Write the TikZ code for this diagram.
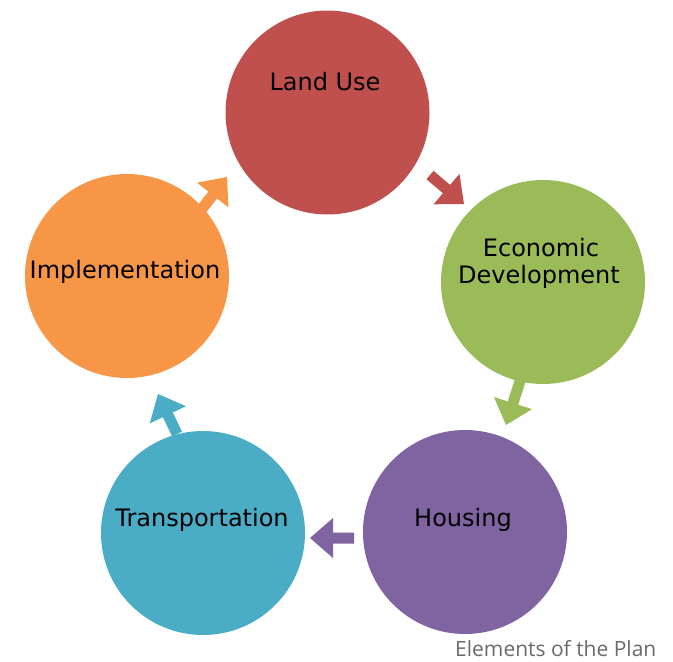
\documentclass[tikz,border=0pt]{standalone}
\usepackage{fontspec}
\setmainfont{DejaVu Sans}
\newfontfamily\capfont{Open Sans}
\usetikzlibrary{calc}
\definecolor{cRed}{HTML}{C0504D}
\definecolor{cGreen}{HTML}{9BBB59}
\definecolor{cPurple}{HTML}{8064A2}
\definecolor{cBlue}{HTML}{4BACC6}
\definecolor{cOrange}{HTML}{F79646}
\definecolor{capgray}{HTML}{6A6A6A}
\newcommand{\blockarr}[3]{%
  \coordinate (hb) at ($(#2)!23pt!(#1)$);
  \fill[#3] ($(#1)!5.5pt!90:(#2)$) -- ($(hb)!5.5pt!90:(#2)$) -- ($(hb)!20pt!90:(#2)$)
    -- (#2) -- ($(hb)!20pt!-90:(#2)$) -- ($(hb)!5.5pt!-90:(#2)$) -- ($(#1)!5.5pt!-90:(#2)$) -- cycle;
}
\begin{document}
\begin{tikzpicture}[x=1pt,y=-1pt,
  circ/.style={circle, minimum size=204pt, inner sep=0pt, draw=none},
  lbl/.style={anchor=base, inner sep=0pt, font=\fontsize{24}{28}\selectfont, text=black}]
\useasboundingbox (0,0) rectangle (673,662);
% circles
\node[circ, fill=cRed] (lu) at (327.5,112.5) {};
\node[circ, fill=cGreen] (ed) at (543,282) {};
\node[circ, fill=cPurple] (ho) at (465,532) {};
\node[circ, fill=cBlue] (tr) at (203,533) {};
\node[circ, fill=cOrange] (im) at (127,276) {};
% labels
\node[lbl] (lut) at (325,90.7) {Land Use};
\node[lbl] (edt1) at (541,256) {Economic};
\node[lbl] (edt2) at (539,283.3) {Development};
\node[lbl] (hot) at (463,526) {Housing};
\node[lbl] (trt) at (202,526) {Transportation};
\node[lbl] (imt) at (125,278.3) {Implementation};
% arrow end points
\coordinate (a1s) at (430,175); \coordinate (a1t) at (464,204);
\coordinate (a2s) at (521,378); \coordinate (a2t) at (506,425);
\coordinate (a3s) at (354,538); \coordinate (a3t) at (310,538);
\coordinate (a4s) at (177,434); \coordinate (a4t) at (158,394);
\coordinate (a5s) at (201,210); \coordinate (a5t) at (227,177);
\blockarr{a1s}{a1t}{cRed}
\blockarr{a2s}{a2t}{cGreen}
\blockarr{a3s}{a3t}{cPurple}
\blockarr{a4s}{a4t}{cBlue}
\blockarr{a5s}{a5t}{cOrange}
% caption
\node[anchor=base west, inner sep=0pt, text depth=0pt, font=\capfont\fontsize{21}{25}\selectfont, text=capgray] (cap) at (455,656) {Elements of the Plan};
\end{tikzpicture}
\end{document}
